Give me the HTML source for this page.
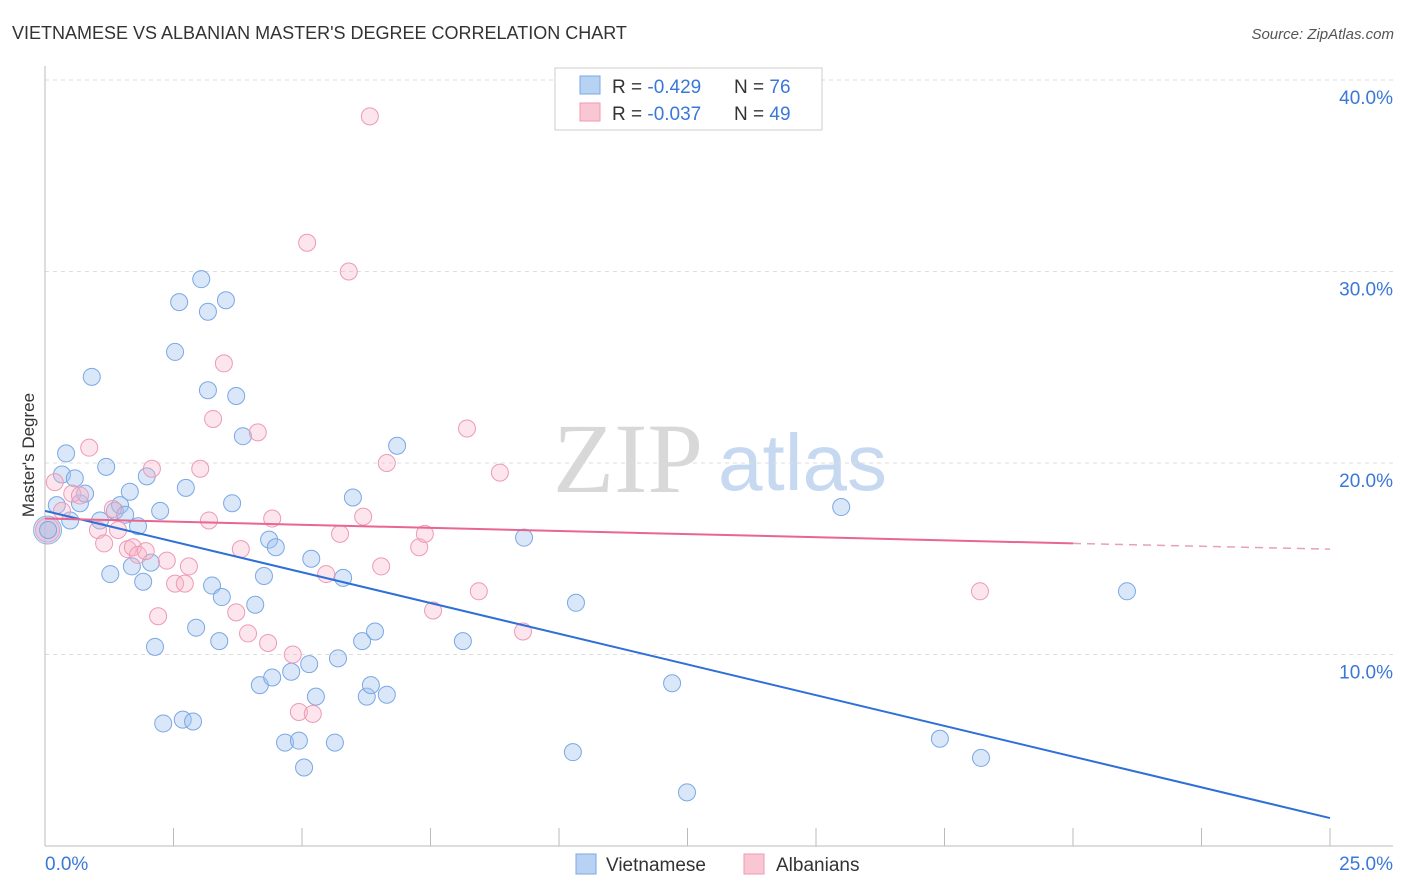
<!DOCTYPE html>
<html><head><meta charset="utf-8"><style>
body{margin:0;background:#fff;font-family:"Liberation Sans",sans-serif;}
svg{display:block}
</style></head><body>
<svg id="chart" width="1406" height="892">
<text x="12" y="39" font-size="18" fill="#333">VIETNAMESE VS ALBANIAN MASTER'S DEGREE CORRELATION CHART</text>
<text x="1394" y="39" font-size="15" fill="#555" font-style="italic" text-anchor="end">Source: ZipAtlas.com</text>
<text x="34" y="455" font-size="17" fill="#333" transform="rotate(-90 34 455)" text-anchor="middle">Master's Degree</text>
<g>
<text x="553" y="492" font-size="100" fill="#d8d8d8" font-family="Liberation Serif,serif">ZIP</text>
<text x="718" y="490" font-size="80" fill="#c6d9f0">atlas</text>
</g>
<g id="grid"></g><g id="axes"></g><g id="pts"></g><g id="lines"></g>
<g>
<rect x="555" y="68" width="267" height="62" fill="#fff" stroke="#ccc"/>
<rect x="580" y="76" width="20" height="18" fill="#b8d2f4" stroke="#7aa8e4"/>
<rect x="580" y="103" width="20" height="18" fill="#f9c6d4" stroke="#ee9ab4"/>
<text x="612" y="93" font-size="19" fill="#333">R = <tspan fill="#3a78d8">-0.429</tspan></text>
<text x="734" y="93" font-size="19" fill="#333">N = <tspan fill="#3a78d8">76</tspan></text>
<text x="612" y="120" font-size="19" fill="#333">R = <tspan fill="#3a78d8">-0.037</tspan></text>
<text x="734" y="120" font-size="19" fill="#333">N = <tspan fill="#3a78d8">49</tspan></text>
</g>
<g>
<rect x="576" y="854" width="20" height="20" fill="#b8d2f4" stroke="#7aa8e4"/>
<text x="606" y="871" font-size="19" fill="#333">Vietnamese</text>
<rect x="744" y="854" width="20" height="20" fill="#f9c6d4" stroke="#ee9ab4"/>
<text x="776" y="871" font-size="19" fill="#333">Albanians</text>
</g>
</svg>
<script>
const yTicks=[10,20,30,40];
const yTickLabels=["10.0%","20.0%","30.0%","40.0%"];
const xTickVals=[0,2.5,5,7.5,10,12.5,15,17.5,20,22.5,25];
const blueX=[0.06,0.23,0.33,0.41,0.49,0.58,0.68,0.78,0.91,1.07,1.19,1.27,1.36,1.46,1.56,1.65,1.69,1.81,1.91,1.98,2.06,2.14,2.24,2.30,2.53,2.61,2.68,2.74,2.88,2.94,3.04,3.17,3.17,3.25,3.39,3.44,3.52,3.64,3.72,3.85,4.09,4.18,4.26,4.36,4.42,4.49,4.67,4.79,4.94,5.04,5.14,5.18,5.27,5.64,5.70,5.80,5.99,6.17,6.26,6.34,6.42,6.65,6.85,8.13,9.32,10.27,10.33,12.20,12.49,15.49,17.41,18.21,21.05];
const blueY=[16.5,17.8,19.4,20.5,17.0,19.2,17.9,18.4,24.5,17.0,19.8,14.2,17.5,17.8,17.3,18.5,14.6,16.7,13.8,19.3,14.8,10.4,17.5,6.4,25.8,28.4,6.6,18.7,6.5,11.4,29.6,27.9,23.8,13.6,10.7,13.0,28.5,17.9,23.5,21.4,12.6,8.4,14.1,16.0,8.8,15.6,5.4,9.1,5.5,4.1,9.5,15.0,7.8,5.4,9.8,14.0,18.2,10.7,7.8,8.4,11.2,7.9,20.9,10.7,16.1,4.9,12.7,8.5,2.8,17.7,5.6,4.6,13.3];
const pinkX=[0.19,0.33,0.53,0.68,0.86,1.03,1.15,1.32,1.42,1.61,1.71,1.81,1.96,2.08,2.20,2.37,2.53,2.72,2.80,3.02,3.19,3.27,3.48,3.72,3.81,3.95,4.14,4.34,4.42,4.82,4.94,5.10,5.21,5.47,5.74,5.91,6.19,6.32,6.54,6.65,7.28,7.39,7.55,8.21,8.44,8.85,9.30,18.19];
const pinkY=[19.0,17.5,18.4,18.3,20.8,16.5,15.8,17.6,16.5,15.5,15.6,15.2,15.4,19.7,12.0,14.9,13.7,13.7,14.6,19.7,17.0,22.3,25.2,12.2,15.5,11.1,21.6,10.6,17.1,10.0,7.0,31.5,6.9,14.2,16.3,30.0,17.2,38.1,14.6,20.0,15.6,16.3,12.3,21.8,13.3,19.5,11.2,13.3];
const blueLine=[17.5,1.46];
const pinkLine=[17.1,15.8,15.5];
const X=v=>45+v*51.4, Y=v=>846-v*19.15;
const NS="http://www.w3.org/2000/svg";
function mk(p,t,a){const e=document.createElementNS(NS,t);for(const k in a)e.setAttribute(k,a[k]);document.getElementById(p).appendChild(e);return e;}
yTicks.forEach((t,i)=>{
 const l=mk('grid','line',{x1:45,x2:1393,y1:Y(t),y2:Y(t),stroke:'#ddd','stroke-dasharray':'4,4'});
 
 
 const tx=mk('grid','text',{x:1393,y:Y(t)+24,'font-size':19,fill:'#3a78d8','text-anchor':'end'});
 tx.textContent=yTickLabels[i];
 
 
});
let a=mk('axes','line',{x1:45,x2:45,y1:66,y2:846,stroke:'#bbb'});

a=mk('axes','line',{x1:45,x2:1393,y1:846,y2:846,stroke:'#bbb'});

xTickVals.forEach(v=>{const t=mk('axes','line',{x1:X(v),x2:X(v),y1:828,y2:846,stroke:'#bbb'});
 });
let t1=mk('axes','text',{x:45,y:870,'font-size':19,fill:'#3a78d8'});t1.textContent="0.0%";

t1=mk('axes','text',{x:1393,y:870,'font-size':19,fill:'#3a78d8','text-anchor':'end'});t1.textContent="25.0%";

let b=mk('pts','circle',{cx:X(0.05),cy:Y(16.5),r:14,fill:'rgba(160,196,240,0.45)',stroke:'#8ab4e8'});

b=mk('pts','circle',{cx:X(0.05),cy:Y(16.5),r:12,fill:'rgba(245,180,200,0.45)',stroke:'#f0a0b8'});

blueX.forEach((x,i)=>{const c=mk('pts','circle',{cx:X(x),cy:Y(blueY[i]),r:8.5,fill:'rgba(160,196,240,0.4)',stroke:'#7aa8e4','stroke-width':1});
 });
pinkX.forEach((x,i)=>{const c=mk('pts','circle',{cx:X(x),cy:Y(pinkY[i]),r:8.5,fill:'rgba(245,180,200,0.35)',stroke:'#ee9ab4','stroke-width':1});
 });
let ln=mk('lines','line',{x1:X(0),y1:Y(blueLine[0]),x2:X(25),y2:Y(blueLine[1]),stroke:'#2e6fd8','stroke-width':2});

ln=mk('lines','line',{x1:X(0),y1:Y(pinkLine[0]),x2:X(20),y2:Y(pinkLine[1]),stroke:'#e8668f','stroke-width':2});

ln=mk('lines','line',{x1:X(20),y1:Y(pinkLine[1]),x2:X(25),y2:Y(pinkLine[2]),stroke:'#e8a0b8','stroke-width':1.5,'stroke-dasharray':'8,6'});

</script>
</body></html>
